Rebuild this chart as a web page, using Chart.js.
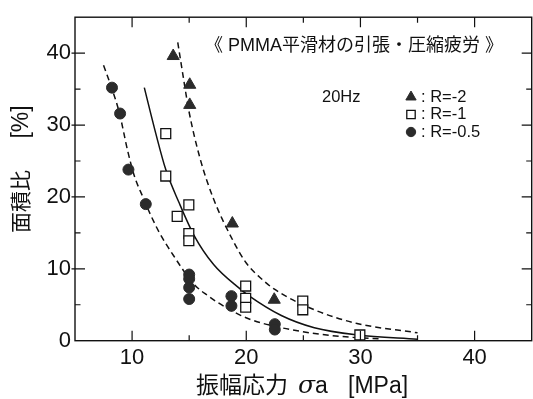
<!DOCTYPE html>
<html>
<head>
<meta charset="utf-8">
<script src="https://cdn.jsdelivr.net/npm/chart.js@4.4.1/dist/chart.umd.min.js"></script>
<style>
  html, body { margin: 0; padding: 0; background: #fff; overflow: hidden; }
  #wrap { width: 540px; height: 399px; }
</style>
</head>
<body>
<div id="wrap"><canvas id="c" width="540" height="399"></canvas></div>
<script>
// Measured points: stress amplitude [MPa] and area ratio [%]
const r2Stress  = [13.6, 15.05, 15.05, 18.78, 22.45];
const r2Ratio   = [39.6, 35.6, 32.8, 16.3, 5.7];

const r1Stress  = [12.95, 12.95, 13.95, 14.97, 14.97, 14.97, 19.95, 19.95, 19.95, 24.95, 24.95, 29.95];
const r1Ratio   = [28.8, 22.9, 17.3, 18.9, 14.9, 13.9, 7.6, 5.9, 4.65, 5.5, 4.3, 0.8];

const r05Stress = [8.24, 8.95, 9.68, 11.2, 15.0, 15.0, 15.0, 15.0, 18.7, 18.7, 22.5, 22.5];
const r05Ratio  = [35.2, 31.6, 23.8, 19.0, 9.2, 8.6, 7.4, 5.8, 6.2, 4.85, 2.3, 1.55];

// Fitted trend curves
const fitR2Stress  = [14.0, 14.5, 14.97, 15.98, 17.14, 18.88, 20.0, 21.2, 22.43, 25.96, 29.7, 35.0];
const fitR2Ratio   = [41.5, 36.5, 32.0, 25.2, 19.7, 13.8, 10.8, 8.8, 7.2, 4.3, 2.4, 1.1];

const fitR1Stress  = [11.07, 12.08, 12.95, 14.1, 15.41, 17.14, 19.46, 20.18, 23.07, 25.96, 29.7, 35.0];
const fitR1Ratio   = [35.2, 28.8, 23.8, 19.25, 14.7, 10.6, 7.2, 6.3, 3.5, 1.8, 0.8, 0.2];

const fitR05Stress = [7.5, 8.2, 8.9, 9.6, 10.2, 11.0, 11.65, 12.4, 13.4, 15.4, 16.6, 18.2, 20.2, 23.1, 26.0, 29.0, 31.8];
const fitR05Ratio  = [38.3, 35.2, 31.6, 26.5, 22.9, 19.8, 17.4, 15.0, 12.4, 7.9, 6.3, 4.65, 3.05, 1.8, 1.0, 0.5, 0.25];

// Axis ticks
const xMajorTicks = [10, 20, 30, 40];
const xMinorTicks = [15, 25, 35];
const yMajorTicks = [0, 10, 20, 30, 40];
const yMinorTicks = [5, 15, 25, 35];

const legendLabels = [': R=-2', ': R=-1', ': R=-0.5'];

const INK = '#111';
const MARK = '#2b2b2b';
const LATIN = '"Liberation Sans", Arial, "Noto Sans CJK JP", sans-serif';
const CJK = '"Liberation Sans", "Noto Sans CJK JP", sans-serif';

const pts = (xs, ys) => xs.map((x, i) => ({ x, y: ys[i] }));

const curve = (xs, ys, dash) => ({
  data: pts(xs, ys),
  showLine: true,
  pointRadius: 0,
  borderColor: INK,
  borderWidth: 1.5,
  borderDash: dash,
  cubicInterpolationMode: 'monotone',
  fill: false,
  order: 2
});

const datasets = [
  curve(fitR2Stress, fitR2Ratio, [6, 4]),
  curve(fitR1Stress, fitR1Ratio, []),
  curve(fitR05Stress, fitR05Ratio, [6, 4]),
  { label: 'R=-2', data: pts(r2Stress, r2Ratio), pointStyle: 'triangle', pointRadius: 7,
    backgroundColor: MARK, borderColor: MARK, borderWidth: 1, showLine: false, order: 1 },
  { label: 'R=-1', data: pts(r1Stress, r1Ratio), pointStyle: 'rect', pointRadius: 7,
    backgroundColor: '#fff', borderColor: INK, borderWidth: 1.3, showLine: false, order: 0 },
  { label: 'R=-0.5', data: pts(r05Stress, r05Ratio), pointStyle: 'circle', pointRadius: 5.5,
    backgroundColor: MARK, borderColor: MARK, borderWidth: 1, showLine: false, order: 1 }
];

// Plot frame with inward major/minor ticks on all four sides
const framePlugin = {
  id: 'frame',
  afterDatasetsDraw(chart) {
    const { ctx, chartArea: a, scales: { x, y } } = chart;
    ctx.save();
    ctx.strokeStyle = INK;
    ctx.lineWidth = 1.4;
    ctx.strokeRect(a.left, a.top, a.right - a.left, a.bottom - a.top);
    const MAJ = 10, MIN = 5.5;
    ctx.lineWidth = 1.2;
    ctx.beginPath();
    const xt = (v, len) => {
      const px = x.getPixelForValue(v);
      ctx.moveTo(px, a.bottom); ctx.lineTo(px, a.bottom - len);
      ctx.moveTo(px, a.top); ctx.lineTo(px, a.top + len);
    };
    const yt = (v, len, out) => {
      const py = y.getPixelForValue(v);
      ctx.moveTo(a.left - out, py); ctx.lineTo(a.left + len, py);
      ctx.moveTo(a.right, py); ctx.lineTo(a.right - len, py);
    };
    xMajorTicks.forEach(v => xt(v, MAJ));
    xMinorTicks.forEach(v => xt(v, MIN));
    yMajorTicks.filter(v => v > 0).forEach(v => yt(v, MAJ, 3.5));
    yMinorTicks.forEach(v => yt(v, MIN, 0));
    ctx.stroke();
    ctx.restore();
  },
  afterDraw(chart) {
    const { ctx } = chart;
    ctx.save();
    ctx.fillStyle = INK;
    ctx.textBaseline = 'middle';

    // title inside the plot
    ctx.font = '18px ' + CJK;
    ctx.textAlign = 'center';
    ctx.fillText('《 PMMA平滑材の引張・圧縮疲労 》', 354, 46);

    // test frequency
    ctx.font = '16.5px ' + LATIN;
    ctx.textAlign = 'left';
    ctx.fillText('20Hz', 322, 97);

    // legend
    const rows = [97, 114.5, 132];
    [3, 4, 5].forEach((di, i) => {
      const ds = chart.data.datasets[di];
      ctx.fillStyle = ds.backgroundColor;
      ctx.strokeStyle = ds.borderColor;
      ctx.lineWidth = ds.borderWidth;
      Chart.helpers.drawPoint(ctx, { pointStyle: ds.pointStyle, radius: ds.pointRadius * 0.85, borderWidth: ds.borderWidth }, 411, rows[i]);
      ctx.fillStyle = INK;
      ctx.font = '16.5px ' + LATIN;
      ctx.fillText(legendLabels[i], 421, rows[i]);
    });

    // x axis title
    ctx.font = '23px ' + CJK;
    ctx.textAlign = 'left';
    ctx.fillText('振幅応力', 196, 387);
    ctx.font = 'italic 25px "DejaVu Serif", serif';
    ctx.fillText('σ', 298, 386);
    ctx.font = '23px ' + LATIN;
    ctx.fillText('a', 315, 387);
    ctx.fillText('[MPa]', 348, 387);

    // y axis title
    ctx.translate(22, 0);
    ctx.rotate(-Math.PI / 2);
    ctx.textAlign = 'center';
    ctx.font = '21px ' + CJK;
    ctx.fillText('面積比', -201.5, 0);
    ctx.font = '23px ' + LATIN;
    ctx.fillText('[%]', -122, 0);
    ctx.restore();
  }
};

new Chart(document.getElementById('c'), {
  type: 'scatter',
  data: { datasets },
  options: {
    responsive: false,
    animation: false,
    layout: { padding: { top: 11, right: 4.5, left: 0, bottom: 0 } },
    plugins: { legend: { display: false }, tooltip: { enabled: false }, title: { display: false } },
    scales: {
      x: {
        type: 'linear', min: 5, max: 45,
        grid: { display: false, drawTicks: false },
        border: { display: false },
        afterBuildTicks: s => { s.ticks = xMajorTicks.map(v => ({ value: v })); },
        afterFit: s => { s.height = 58.3; },
        ticks: { color: INK, font: { family: LATIN, size: 22 }, padding: 4, maxRotation: 0 }
      },
      y: {
        type: 'linear', min: 0, max: 45,
        grid: { display: false, drawTicks: false },
        border: { display: false },
        afterBuildTicks: s => { s.ticks = yMajorTicks.map(v => ({ value: v })); },
        afterFit: s => { s.width = 75; },
        ticks: { color: INK, font: { family: LATIN, size: 22 }, padding: 4 }
      }
    }
  },
  plugins: [framePlugin]
});
</script>
</body>
</html>
